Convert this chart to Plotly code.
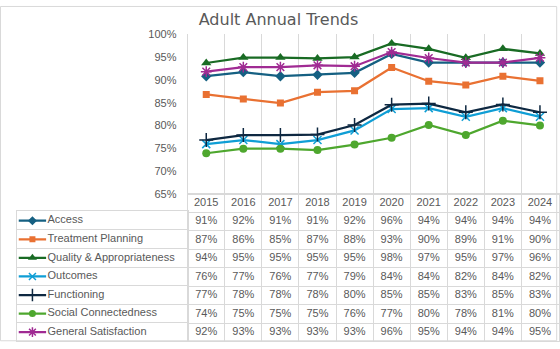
import plotly.graph_objects as go

W, H = 560, 349

def X(px):
    return px / W

def Y(px):
    return 1 - px / H

years = ["2015", "2016", "2017", "2018", "2019", "2020", "2021", "2022", "2023", "2024"]

access = [90.8, 91.7, 90.8, 91.1, 91.55, 95.7, 93.8, 93.8, 93.8, 93.8]
treatment = [86.8, 85.8, 84.9, 87.3, 87.6, 92.7, 89.7, 88.9, 90.8, 89.8]
quality = [93.7, 94.9, 94.9, 94.7, 95.0, 98.0, 96.8, 94.85, 96.8, 95.8]
outcomes = [75.9, 76.8, 75.9, 76.8, 78.9, 83.6, 83.8, 81.9, 83.8, 81.9]
functioning = [76.8, 77.9, 77.9, 78.0, 80.1, 84.55, 84.8, 82.9, 84.6, 82.9]
social = [73.9, 74.9, 74.9, 74.6, 75.8, 77.3, 80.1, 77.9, 81.05, 80.0]
general = [91.8, 92.8, 92.8, 93.2, 93.0, 96.1, 94.8, 93.8, 93.8, 94.85]

names = ["Access", "Treatment Planning", "Quality & Appropriateness", "Outcomes",
         "Functioning", "Social Connectedness", "General Satisfaction"]
series = [access, treatment, quality, outcomes, functioning, social, general]
colors = ["#156082", "#E97132", "#196B24", "#0F9ED5", "#0E2841", "#4EA72E", "#A02B93"]
symbols = ["diamond", "square", "triangle-up", "x-thin-open", "cross-thin-open", "circle", "asterisk-open"]
msizes = [8, 7, 9, 8, 10, 8, 9]
key_sizes = [7, 6, 8, 7, 9, 7, 8]

yticks = [65, 70, 75, 80, 85, 90, 95, 100]
header_key = "Year"

GRID = "#d9d9d9"
TXT = "#595959"
FONT = "Liberation Sans, Arial, sans-serif"

# name-column layout (fractions of the name column width)
KEY_X = [0.012, 0.092, 0.172]
NAME_X = 0.18

fig = go.Figure()

for nm, vals, c, s, ms in zip(names, series, colors, symbols, msizes):
    thin = s.endswith("-open")
    fig.add_trace(go.Scatter(
        x=years, y=vals, name=nm, mode="lines+markers",
        line=dict(color=c, width=2.25),
        marker=dict(symbol=s, size=ms, color=c,
                    line=dict(color=c, width=1.5 if thin else 0)),
        xaxis="x", yaxis="y", showlegend=False,
    ))

# data table: header row (years) and value cells
fig.add_trace(go.Scatter(
    x=years, y=[header_key] * len(years), mode="text", text=years,
    textfont=dict(family=FONT, size=11, color=TXT),
    xaxis="x2", yaxis="y2", showlegend=False, hoverinfo="skip",
))
for nm, vals in zip(names, series):
    fig.add_trace(go.Scatter(
        x=years, y=[nm] * len(years), mode="text",
        text=[f"{v:.0f}%" for v in vals],
        textfont=dict(family=FONT, size=11, color=TXT),
        xaxis="x2", yaxis="y2", showlegend=False, hoverinfo="skip",
    ))

# name column: legend keys and series names
for nm, c, s, ks in zip(names, colors, symbols, key_sizes):
    thin = s.endswith("-open")
    fig.add_trace(go.Scatter(
        x=KEY_X, y=[nm] * 3, mode="lines+markers",
        line=dict(color=c, width=2.25),
        marker=dict(symbol=s, size=ks, color=c, opacity=[0, 1, 0],
                    line=dict(color=c, width=1.5 if thin else 0)),
        xaxis="x3", yaxis="y3", showlegend=False, hoverinfo="skip",
    ))
fig.add_trace(go.Scatter(
    x=[NAME_X] * len(names), y=names, mode="text", text=names,
    textposition="middle right",
    textfont=dict(family=FONT, size=11, color=TXT),
    xaxis="x3", yaxis="y3", showlegend=False, hoverinfo="skip",
))

n = len(names)
xl, xr = 187.7, 558.5
fig.update_layout(
    width=W, height=H,
    margin=dict(l=0, r=0, t=0, b=0),
    paper_bgcolor="white", plot_bgcolor="white",
    title=dict(text="Adult Annual Trends", x=X(278.5), y=Y(19),
               xanchor="center", yanchor="middle",
               font=dict(family="DejaVu Sans", size=16, color=TXT)),
    showlegend=False,
    xaxis=dict(domain=[X(xl), X(xr)], anchor="y", type="category",
               range=[-0.5, len(years) - 0.5],
               tickson="boundaries", showgrid=True, gridcolor=GRID, gridwidth=1,
               showticklabels=False, ticks="", showline=True, linecolor=GRID,
               zeroline=False),
    yaxis=dict(domain=[Y(194.5), Y(29.3)], anchor="x", range=[65, 100],
               tickvals=yticks, ticktext=[f"{t}%" for t in yticks],
               showgrid=False, zeroline=False, showline=True, linecolor=GRID,
               ticks="", ticklabelstandoff=8,
               tickfont=dict(family=FONT, size=11, color=TXT)),
    xaxis2=dict(domain=[X(xl), X(xr)], anchor="y2", type="category",
                matches="x", tickson="boundaries", showgrid=True, gridcolor=GRID,
                showticklabels=False, ticks="", showline=True, mirror=True,
                linecolor=GRID, zeroline=False),
    yaxis2=dict(domain=[Y(347.4), Y(194.5)], anchor="x2", type="category",
                categoryorder="array", categoryarray=[header_key] + names,
                range=[n + 0.5, -0.5], tickson="boundaries", showgrid=True,
                gridcolor=GRID, showticklabels=False, ticks="", showline=True,
                mirror=True, linecolor=GRID, zeroline=False),
    xaxis3=dict(domain=[X(16.7), X(xl)], anchor="y3", range=[0, 1],
                showgrid=False, showticklabels=False, ticks="", showline=True,
                mirror=True, linecolor=GRID, zeroline=False),
    yaxis3=dict(domain=[Y(347.4), Y(212.7)], anchor="x3", type="category",
                categoryorder="array", categoryarray=names,
                range=[n - 0.5, -0.5], tickson="boundaries", showgrid=True,
                gridcolor=GRID, showticklabels=False, ticks="", showline=True,
                mirror=True, linecolor=GRID, zeroline=False),
    shapes=[dict(type="rect", xref="paper", yref="paper",
                 x0=X(0.5), x1=X(556.7), y0=Y(346.7), y1=Y(0.5),
                 line=dict(color=GRID, width=1), layer="below")],
)

fig.write_html("out.html")
